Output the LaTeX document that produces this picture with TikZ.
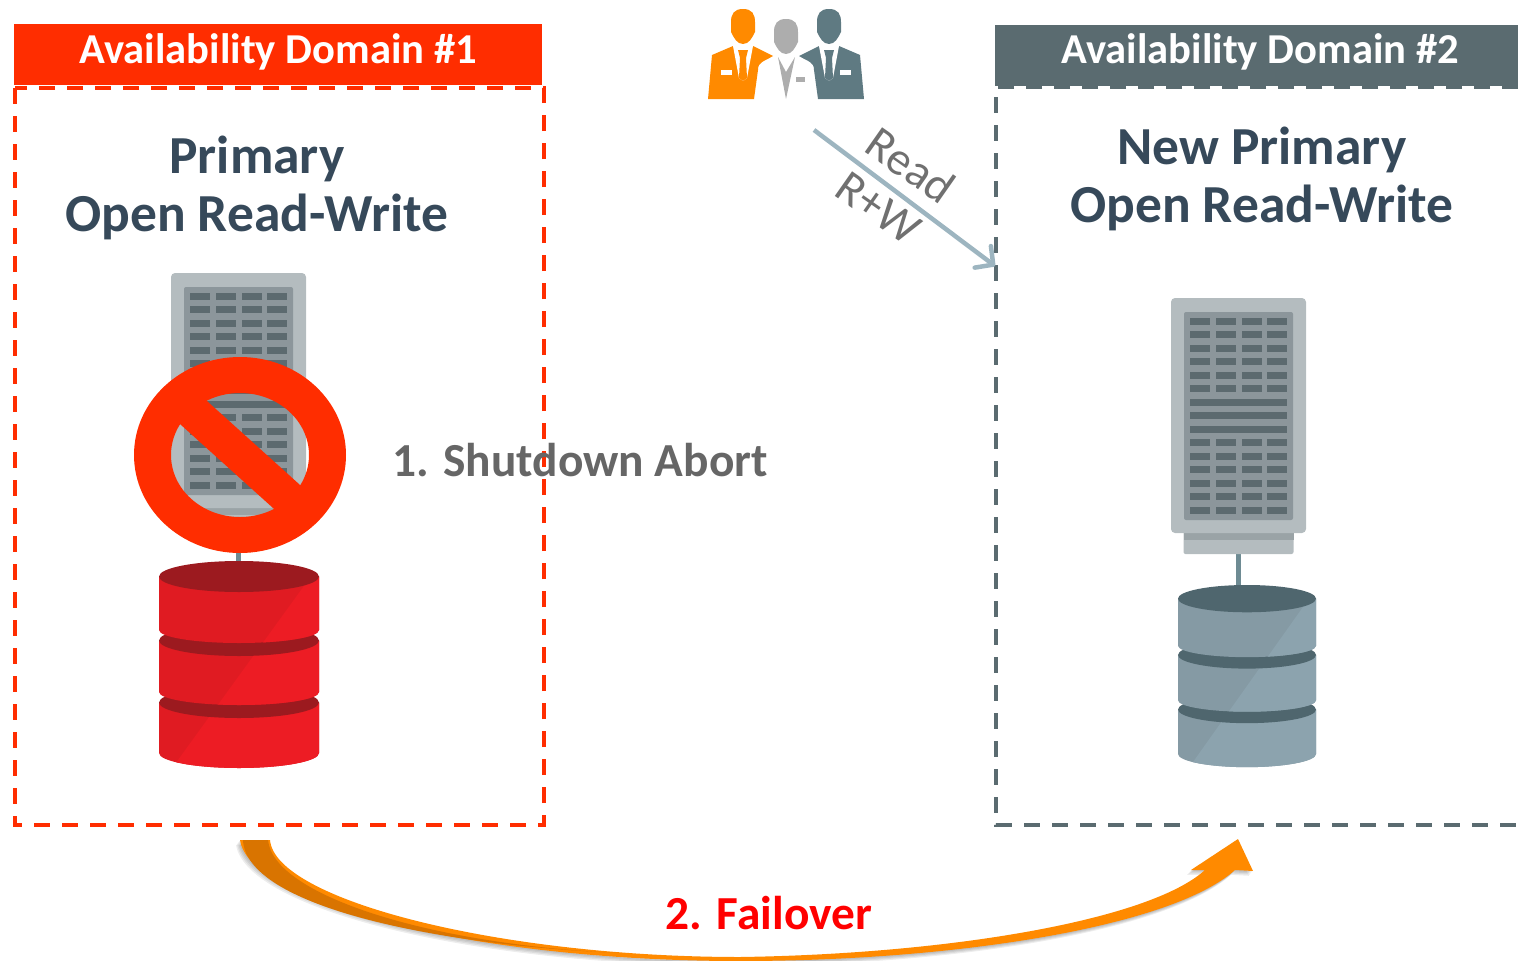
\documentclass[tikz,border=0pt]{standalone}
\usepackage{fontspec}
\setmainfont{Carlito}
\usetikzlibrary{arrows.meta}
\definecolor{alarmred}{HTML}{FF2D00}
\definecolor{slategray}{HTML}{5A6B70}
\definecolor{titleblue}{HTML}{36495A}
\definecolor{rackbody}{HTML}{B4BCBF}
\definecolor{rackpanel}{HTML}{8C969B}
\definecolor{rackslot}{HTML}{5C6A6F}
\definecolor{rackband}{HTML}{9AA3A6}
\definecolor{stemteal}{HTML}{6E8B93}
\definecolor{staffteal}{HTML}{5F7A82}
\definecolor{linkblue}{HTML}{9DB5C0}
\definecolor{swooshorange}{HTML}{FF8A00}
\definecolor{swooshdark}{HTML}{D97400}
\definecolor{dbredside}{HTML}{E01B22}
\definecolor{dbredlight}{HTML}{ED1C24}
\definecolor{dbreddark}{HTML}{9C1A1F}
\definecolor{dbtealside}{HTML}{859AA4}
\definecolor{dbteallight}{HTML}{8CA3AE}
\definecolor{dbtealdark}{HTML}{4F666E}
\tikzstyle{domhead} = [font=\fontsize{42.6}{44}\selectfont\bfseries,text=white,inner sep=0pt]
\tikzstyle{domband} = [minimum height=61pt,inner sep=0pt]
\tikzstyle{domtitle} = [font=\fontsize{53.5}{58}\selectfont\bfseries,text=titleblue,align=center,inner sep=0pt]
\tikzstyle{domline} = [line width=3.5pt,dash pattern=on 16pt off 12pt]
\tikzstyle{linktext} = [font=\fontsize{47}{49}\selectfont,text=black!56,rotate=-35,inner sep=0pt]
\tikzstyle{steptext} = [font=\fontsize{47.4}{49}\selectfont\bfseries,inner sep=0pt]
\tikzset{swoosh/.style={insert path={(240,840) -- (270,840)
	.. controls (275,900) and (500,957) .. (740,957)
	.. controls (950,954) and (1150,920) .. (1205,870)
	-- (1191,870) -- (1238,839) -- (1253,871) -- (1235,870)
	.. controls (1170,928) and (950,961) .. (740,961)
	.. controls (480,961) and (250,905) .. cycle}}}
\tikzset{staffhead/.style={insert path={(0,9) .. controls (9,9) and (12,14) .. (12,22) -- (12,32)
	.. controls (9,38) and (6,44) .. (0,44) .. controls (-6,44) and (-9,38) .. (-12,32)
	-- (-12,22) .. controls (-12,14) and (-9,9) .. cycle}}}
% rack with its foot and stem: #1 left, #2 top
\newcommand{\rackunit}[2]{
	\begin{scope}[shift={(#1,#2)}]
		\fill [stemteal] (65,250) rectangle (70,295);
		\fill [rackbody,rounded corners=2pt] (12.5,225) rectangle (122.5,256);
		\fill [rackband] (12.5,235) rectangle (122.5,242);
		\fill [rackbody,rounded corners=4pt] (0,0) rectangle (135,235);
		\fill [rackpanel,rounded corners=2pt] (13,14) rectangle (122,222);
		\foreach \row in {0,...,14} {
			\ifnum\row>5 \ifnum\row<9
				\fill [rackslot] (19,{20+\row*13.47}) rectangle (116,{27+\row*13.47});
			\fi\fi
			\ifnum\row<6
				\foreach \col in {19,45,71,96}
					\fill [rackslot] (\col,{20+\row*13.47}) rectangle ({\col+20},{27+\row*13.47});
			\fi
			\ifnum\row>8
				\foreach \col in {19,45,71,96}
					\fill [rackslot] (\col,{20+\row*13.47}) rectangle ({\col+20},{27+\row*13.47});
			\fi
		}
	\end{scope}
}
% database stack: #1 centre, #2 top, #3 xscale, #4 yscale, #5 side, #6 light, #7 dark
\newcommand{\dbstack}[7]{
	\begin{scope}[shift={(#1,#2)},xscale=#3,yscale=#4]
		\foreach \ctr/\edge/\low in {141.5/192/15,79.5/131/13,15.5/69/13} {
			\fill [#5] (-80,\ctr) -- (-80,\edge)
				.. controls (-80,\edge+0.55*\low) and (-44,\edge+\low) .. (0,\edge+\low)
				.. controls (44,\edge+\low) and (80,\edge+0.55*\low) .. (80,\edge)
				-- (80,\ctr) -- cycle;
			\begin{scope}
				\clip (-80,\ctr) -- (-80,\edge)
					.. controls (-80,\edge+0.55*\low) and (-44,\edge+\low) .. (0,\edge+\low)
					.. controls (44,\edge+\low) and (80,\edge+0.55*\low) .. (80,\edge)
					-- (80,\ctr) -- cycle;
				\fill [#6] (83,0) -- (100,0) -- (100,210) -- (-69,210) -- cycle;
			\end{scope}
			\fill [#7] (0,\ctr) ellipse [x radius=80,y radius=15.5];
		}
	\end{scope}
}
% one of the staff: #1 centre, #2 colour, #3 side
\newcommand{\staffman}[3]{
	\begin{scope}[shift={(#1,0)},xscale=#3]
		\fill [#2,staffhead];
		\fill [#2] (-35,99) -- (-31,55) -- (-10,46) -- (10,46) -- (30,56)
			.. controls (20,62) and (15,62) .. (15,70) -- (11,99) -- cycle;
		\fill [white] (-10,46) -- (10,46) -- (4,78) -- (0,81) -- (-4,78) -- cycle;
		\fill [#2] (-5,50) -- (5,50) -- (3,58) -- (4,78) -- (0,81) -- (-4,78) -- (-3,58) -- cycle;
		\fill [white] (-22,70) rectangle (-11,75);
	\end{scope}
}
\begin{document}
\begin{tikzpicture}[x=1pt,y=-1pt]
	\useasboundingbox (0,0) rectangle (1518,961);

	% the two domains
	\node [domband,fill=alarmred,minimum width=528pt] (band1) at (278,54.5) {};
	\node [domband,fill=slategray,minimum width=523pt] (band2) at (1256.5,55) {};
	\node [domhead] (headtext1) at (278,52) {Availability Domain \#1};
	\node [domhead] (headtext2) at (1260,52) {Availability Domain \#2};
	\draw [domline,alarmred] (15,88) rectangle (544,825);
	\draw [domline,slategray] (1518,87) -- (996,87) -- (996,825) -- (1518,825);
	\node [domtitle] (title1) at (257,188) {Primary\\Open Read-Write};
	\node [domtitle] (title2) at (1262,179) {New Primary\\Open Read-Write};

	% racks and databases
	\rackunit{171}{273}
	\rackunit{1171}{298}
	\dbstack{239}{561}{1}{1}{dbredside}{dbredlight}{dbreddark}
	\dbstack{1247}{585}{0.8625}{0.88}{dbtealside}{dbteallight}{dbtealdark}

	% the stop sign
	\fill [alarmred,even odd rule] (240,455) ellipse [x radius=106,y radius=98]
		(240,455) ellipse [x radius=69,y radius=62];
	\fill [alarmred] (197,392) -- (310,494) -- (283,517) -- (170,415) -- cycle;

	% the staff
	\fill [black!32,shift={(786,10)},staffhead];
	\fill [black!32] (778,57) -- (786,72) -- (795,57) -- (786,99) -- cycle;
	\fill [black!32] (796,77) rectangle (805,82);
	\staffman{743}{swooshorange}{1}
	\staffman{829}{staffteal}{-1}

	% the link to the new primary
	\coordinate (linkfrom) at (814,130);
	\coordinate (linkto) at (995,266);
	\draw [-{Straight Barb[length=13pt,width=27pt,round]},line width=4.5pt,color=linkblue] (linkfrom) -- (linkto);
	\node [linktext] (readtext) at (911,165) {Read};
	\node [linktext] (rwtext) at (878,208) {R+W};

	% the failover arrow
	\foreach \off in {1,2,3,4}
		\fill [black,opacity=0.07,shift={(-\off,1.2*\off)},swoosh];
	\fill [swooshorange,swoosh];
	\fill [swooshdark] (243,840) -- (268,840)
		.. controls (273,895) and (430,945) .. (620,953)
		.. controls (430,945) and (246,905) .. cycle;
	\node [steptext,text=black!60] (step1) at (580,460) {1. Shutdown Abort};
	\node [steptext,text=red] (step2) at (769,913) {2. Failover};
\end{tikzpicture}
\end{document}
